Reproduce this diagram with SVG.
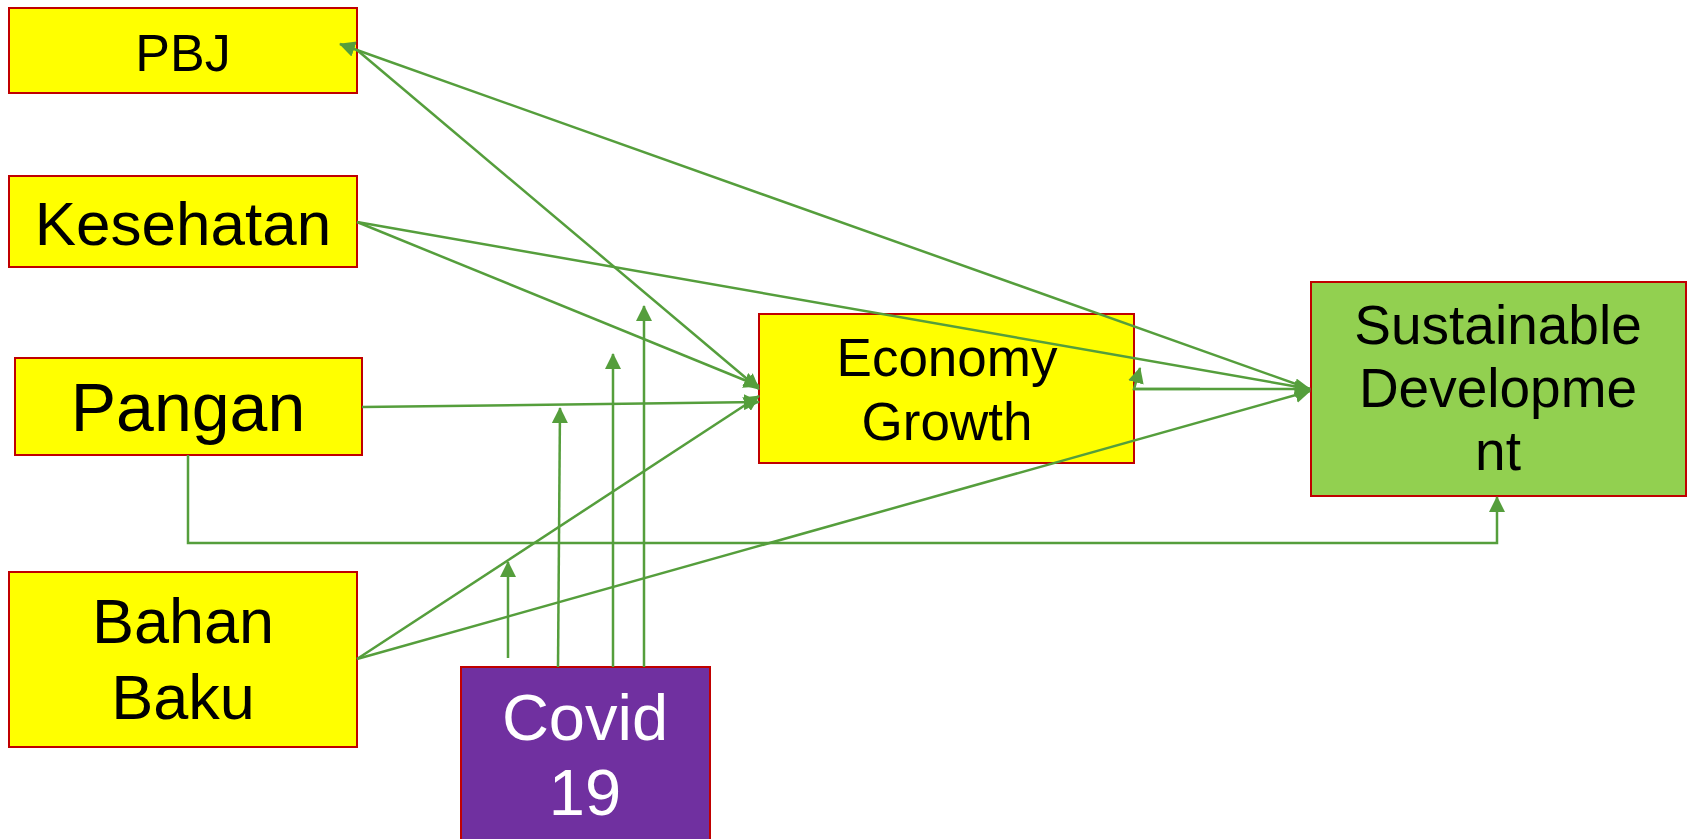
<svg xmlns="http://www.w3.org/2000/svg" width="1689" height="839" viewBox="0 0 1689 839">
  <style>
    .box { stroke: #C00000; stroke-width: 2; }
    .yellow { fill: #FFFF00; }
    .green { fill: #92D050; }
    .purple { fill: #7030A0; }
    .label { font-family: "Liberation Sans", Arial, sans-serif; text-anchor: middle; fill: #000000; }
    .light { fill: #FFFFFF; }
    .link { fill: none; stroke: #559E3C; stroke-width: 2.5; }
  </style>
  <defs>
    <marker id="arrow" markerUnits="userSpaceOnUse" markerWidth="16" markerHeight="16" refX="15" refY="8" orient="auto">
      <path d="M0,0 L16,8 L0,16 z" fill="#559E3C"/>
    </marker>
  </defs>

  <!-- nodes -->
  <g id="pbj">
    <rect class="box yellow" x="9" y="8" width="348" height="85"/>
    <text class="label" x="183" y="71" font-size="52">PBJ</text>
  </g>
  <g id="kesehatan">
    <rect class="box yellow" x="9" y="176" width="348" height="91"/>
    <text class="label" x="183" y="245" font-size="62">Kesehatan</text>
  </g>
  <g id="pangan">
    <rect class="box yellow" x="15" y="358" width="347" height="97"/>
    <text class="label" x="188" y="431" font-size="68">Pangan</text>
  </g>
  <g id="bahan-baku">
    <rect class="box yellow" x="9" y="572" width="348" height="175"/>
    <text class="label" x="183" y="643" font-size="63">Bahan</text>
    <text class="label" x="183" y="719" font-size="63">Baku</text>
  </g>
  <g id="covid-19">
    <rect class="box purple" x="461" y="667" width="249" height="180"/>
    <text class="label light" x="585" y="740" font-size="65">Covid</text>
    <text class="label light" x="585" y="815" font-size="65">19</text>
  </g>
  <g id="economy-growth">
    <rect class="box yellow" x="759" y="314" width="375" height="149"/>
    <text class="label" x="947" y="376" font-size="53">Economy</text>
    <text class="label" x="947" y="440" font-size="53">Growth</text>
  </g>
  <g id="sustainable-development">
    <rect class="box green" x="1311" y="282" width="375" height="214"/>
    <text class="label" x="1498" y="344" font-size="55">Sustainable</text>
    <text class="label" x="1498" y="407" font-size="55">Developme</text>
    <text class="label" x="1498" y="470" font-size="55">nt</text>
  </g>

  <!-- connectors, drawn above the boxes -->
  <g id="connectors">
    <!-- PBJ links -->
    <line class="link" x1="1310" y1="389" x2="340" y2="44" marker-end="url(#arrow)"/>
    <line class="link" x1="357" y1="50" x2="759" y2="389" marker-end="url(#arrow)"/>
    <!-- Kesehatan links -->
    <line class="link" x1="357" y1="222" x2="759" y2="386" marker-end="url(#arrow)"/>
    <line class="link" x1="357" y1="222" x2="1310" y2="389" marker-end="url(#arrow)"/>
    <!-- Pangan links -->
    <line class="link" x1="362" y1="407" x2="759" y2="402" marker-end="url(#arrow)"/>
    <polyline class="link" points="188,455 188,543 1497,543 1497,497" marker-end="url(#arrow)"/>
    <!-- Bahan Baku links -->
    <line class="link" x1="357" y1="659" x2="759" y2="396" marker-end="url(#arrow)"/>
    <line class="link" x1="357" y1="659" x2="1310" y2="391" marker-end="url(#arrow)"/>
    <!-- Economy Growth / Sustainable Development -->
    <line class="link" x1="1134" y1="389" x2="1310" y2="389" marker-end="url(#arrow)"/>
    <polyline class="link" points="1200,389 1134,389 1140,368" marker-end="url(#arrow)"/>
    <!-- Covid 19 moderating arrows -->
    <line class="link" x1="508" y1="658" x2="508" y2="562" marker-end="url(#arrow)"/>
    <line class="link" x1="558" y1="667" x2="560" y2="408" marker-end="url(#arrow)"/>
    <line class="link" x1="613" y1="667" x2="613" y2="354" marker-end="url(#arrow)"/>
    <line class="link" x1="644" y1="667" x2="644" y2="306" marker-end="url(#arrow)"/>
  </g>
</svg>
